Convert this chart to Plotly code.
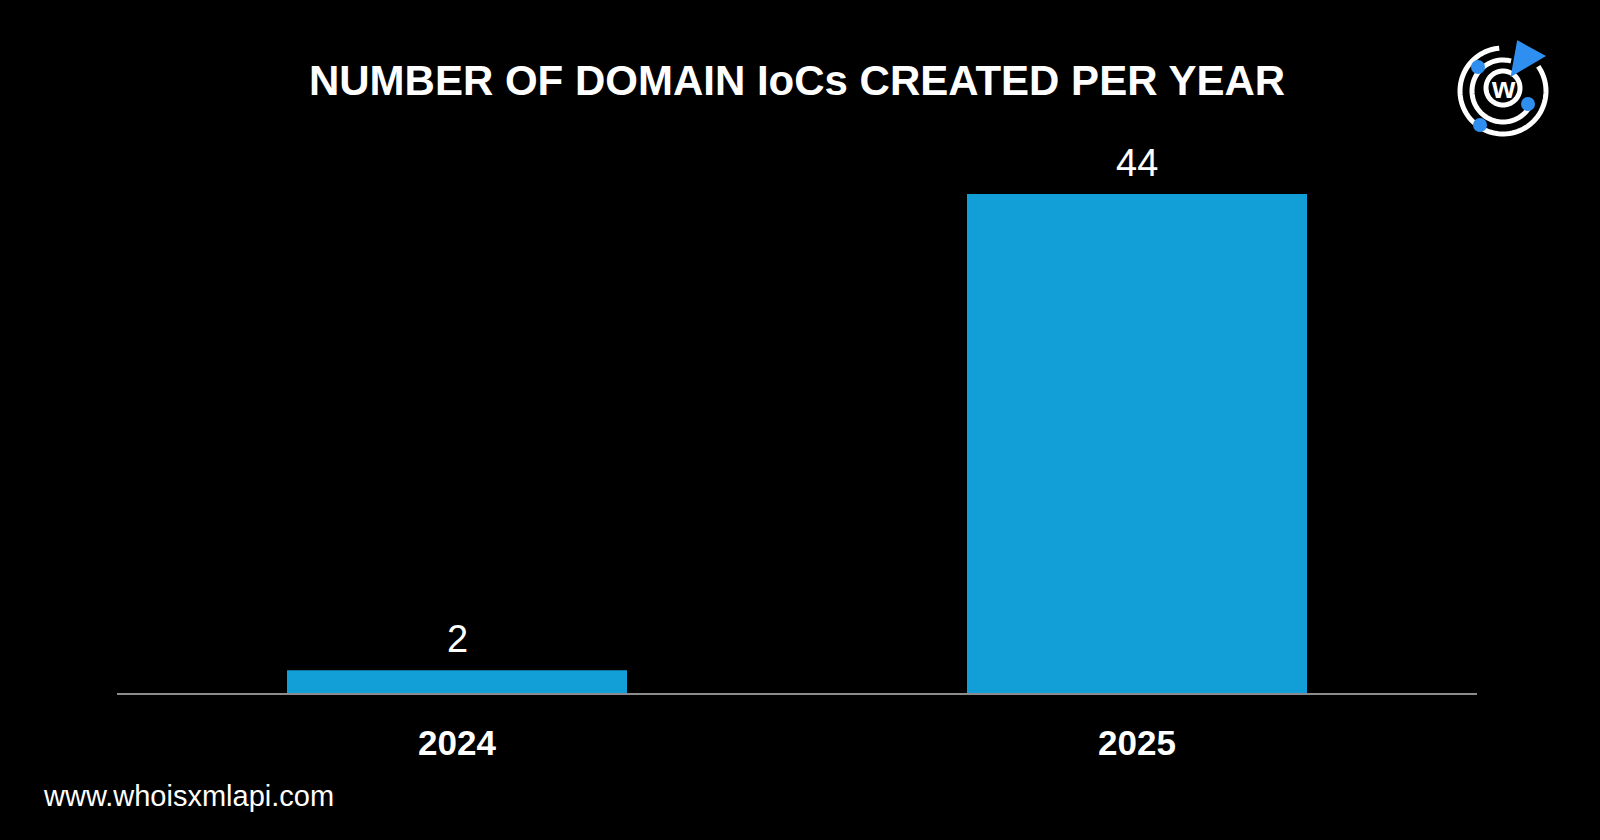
import math
import plotly.graph_objects as go

# ---- data ----
years = ["2024", "2025"]
ioc_counts = [2, 44]
chart_title = "NUMBER OF DOMAIN IoCs CREATED PER YEAR"
footer_text = "www.whoisxmlapi.com"

W, H = 1600, 840
ML, MR, MT, MB = 117, 123, 126, 147
BAR_COLOR = "#129fd7"
FONT = "Liberation Sans, Arial, Helvetica, sans-serif"

fig = go.Figure()
fig.add_trace(go.Bar(
    x=years, y=ioc_counts, marker=dict(color=BAR_COLOR, line=dict(width=0)),
    width=0.5, hoverinfo="skip"
))

PW, PH = W - ML - MR, H - MT - MB
def px(x):
    return (x - ML) / PW
def py(y):
    return (H - MB - y) / PH

annotations = []
for i, v in enumerate(ioc_counts):
    annotations.append(dict(
        x=i, y=v, xref="x", yref="y", text=str(v), showarrow=False,
        yanchor="bottom", yshift=8,
        font=dict(family=FONT, size=38, color="white")
    ))

annotations.append(dict(
    x=px(41), y=py(796), xref="paper", yref="paper", text=footer_text,
    showarrow=False, xanchor="left", yanchor="middle",
    font=dict(family=FONT, size=29, color="white")
))

# ---- logo (decorative) built in pixel space then converted to paper ----
cx, cy = 1503, 91
def arc_path(r, a0, a1, n=80, ccx=cx, ccy=cy):
    pts = []
    for i in range(n + 1):
        a = math.radians(a0 + (a1 - a0) * i / n)
        pts.append((px(ccx + r * math.cos(a)), py(ccy - r * math.sin(a))))
    return "M " + " L ".join(f"{x:.5f},{y:.5f}" for x, y in pts)

shapes = []
shapes.append(dict(type="path", xref="paper", yref="paper",
                   path=arc_path(43, 95, 395), line=dict(color="white", width=5)))
shapes.append(dict(type="path", xref="paper", yref="paper",
                   path=arc_path(31, 75, 335), line=dict(color="white", width=5)))
shapes.append(dict(type="path", xref="paper", yref="paper",
                   path=arc_path(17, 0, 360, ccy=cy - 3), line=dict(color="white", width=5)))
for dx, dy in [(-25, -24), (25, 13), (-23, 34)]:
    r = 7
    shapes.append(dict(type="circle", xref="paper", yref="paper",
                       x0=px(cx + dx - r), x1=px(cx + dx + r),
                       y0=py(cy + dy + r), y1=py(cy + dy - r),
                       fillcolor="#2f8ff0", line=dict(width=0)))
tri = [(1519, 44), (1541, 56), (1514, 72)]
shapes.append(dict(type="path", xref="paper", yref="paper",
                   path="M " + " L ".join(f"{px(x):.5f},{py(y):.5f}" for x, y in tri) + " Z",
                   fillcolor="#2f8ff0", line=dict(color="#2f8ff0", width=5)))
annotations.append(dict(
    x=px(cx), y=py(cy - 3), xref="paper", yref="paper", text="<b>w</b>",
    showarrow=False, xanchor="center", yanchor="middle",
    font=dict(family=FONT, size=30, color="white")
))

fig.update_layout(
    width=W, height=H,
    margin=dict(l=ML, r=MR, t=MT, b=MB),
    paper_bgcolor="black", plot_bgcolor="black",
    showlegend=False,
    title=dict(
        text=f"<b>{chart_title}</b>", x=0.5, xref="paper", xanchor="center",
        y=1 - 80 / H, yref="container", yanchor="middle",
        font=dict(family=FONT, size=42, color="white")
    ),
    xaxis=dict(
        type="category", range=[-0.5, 1.5], showgrid=False, zeroline=False,
        showline=True, linecolor="#8c8c8c", linewidth=2,
        ticks="", ticklabelstandoff=18,
        tickfont=dict(family=FONT, size=35, color="white", weight="bold"),
        fixedrange=True
    ),
    yaxis=dict(range=[0, 50], visible=False, showgrid=False, zeroline=False,
               fixedrange=True),
    annotations=annotations,
    shapes=shapes,
)

fig.write_html("out.html", config={"displayModeBar": False},
               post_script="document.body.style.margin='0';document.body.style.overflow='hidden';")
